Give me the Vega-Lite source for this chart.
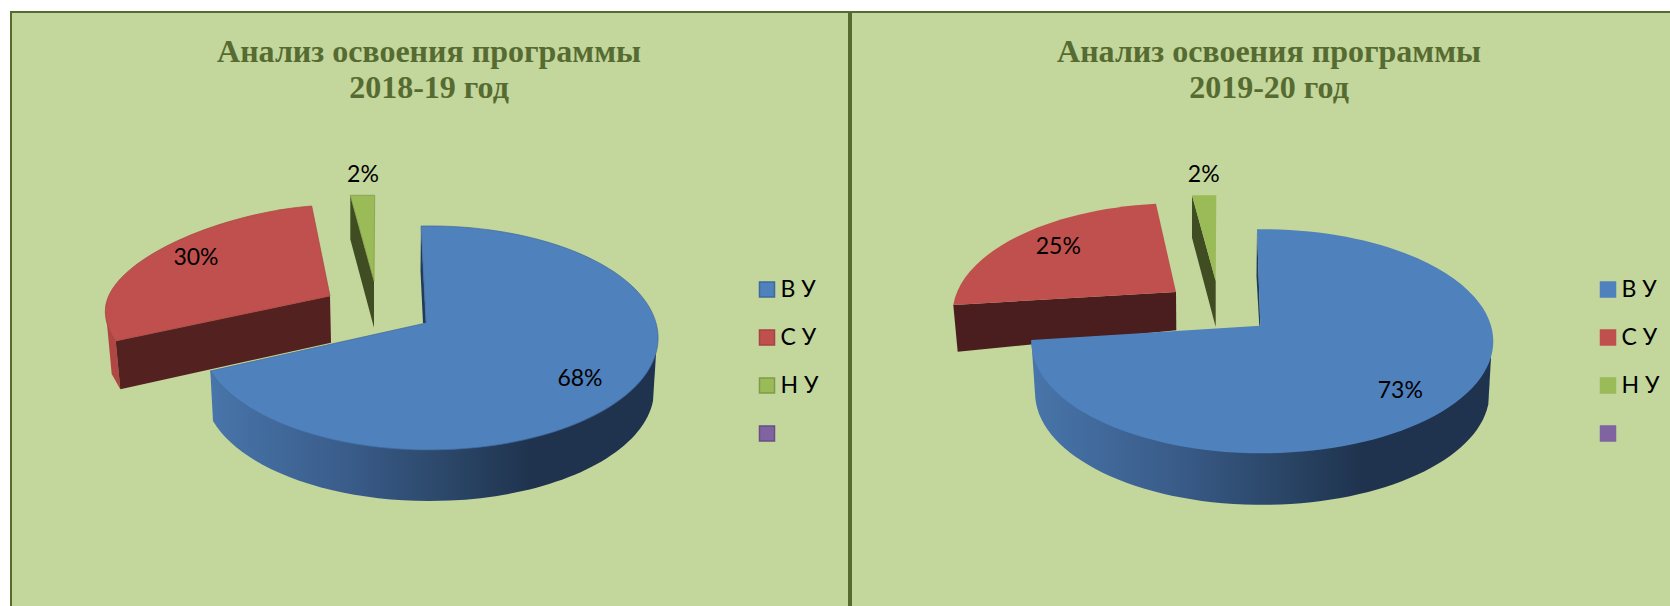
{
"$schema":"https://vega.github.io/schema/vega-lite/v6.json",
"background":"white",
"padding":{"left":10,"top":11,"right":0,"bottom":0},
"spacing":2,
"bounds":"flush",
"resolve":{"scale":{"color":"independent","stroke":"independent"},"legend":{"color":"independent","stroke":"independent"}},
"datasets":{
"y1819":[{"category":"В У","share":0.68},{"category":"С У","share":0.30},{"category":"Н У","share":0.02},{"category":" ","share":0}],
"y1920":[{"category":"В У","share":0.73},{"category":"С У","share":0.25},{"category":"Н У","share":0.02},{"category":" ","share":0}]
},
"config":{"font":"Lato"},
"hconcat":[
{"width":838,"height":598,"data":{"name":"y1819"},
"view":{"fill":"#c3d69b","stroke":"#556b2f","strokeWidth":2},
"layer":[
{"transform":[{"filter":{"field":"category","equal":"С У"}}],"mark":{"type":"point","filled":true,"opacity":1,"size":4,"fill":"#b14745","shape":"M-324.7 0 L-323 13 L-318.3 63 L-309.7 78.3 L-314.3 30 Z"}},
{"transform":[{"filter":{"field":"category","equal":"С У"}}],"mark":{"type":"point","filled":true,"opacity":1,"size":4,"fill":"#532120","shape":"M-314.3 30 L-100 -15 L-99 31.7 L-309.7 78.3 Z"}},
{"transform":[{"filter":{"field":"category","equal":"Н У"}}],"mark":{"type":"point","filled":true,"opacity":1,"size":4,"fill":"#404d22","shape":"M-79.7 -115.7 L-79.7 -71.7 L-56 16.7 L-56 -30 Z"}},
{"transform":[{"filter":{"field":"category","equal":"В У"}}],"mark":{"type":"point","filled":true,"opacity":1,"size":4,"fill":"#1f3a5c","shape":"M-9 -85 L-9.5 -40 L-7 12 L-4 12 Z"}},
{"transform":[{"filter":{"field":"category","equal":"В У"}}],"mark":{"type":"point","filled":true,"opacity":1,"size":4,"fill":{"gradient":"linear","x1":0,"x2":1,"y1":0,"y2":0,"stops":[{"offset":0,"color":"#4875aa"},{"offset":0.3,"color":"#3a5d8b"},{"offset":0.55,"color":"#2a4566"},{"offset":0.72,"color":"#1f334e"},{"offset":1,"color":"#1f334e"}]},"shape":"M-219.7 60 L226 43 L223 90 A225 111 0 0 1 -217 110 Z"}},
{"transform":[{"filter":{"field":"category","equal":"С У"}}],"mark":{"type":"point","filled":true,"opacity":1,"size":4,"fill":"#c0504d","stroke":"#a54442","strokeWidth":0.7,"shape":"M-100 -15 L-118.3 -105 C-210 -98 -324.7 -50 -324.7 0 C-324.7 12 -320 22 -314.3 30 Z"}},
{"transform":[{"filter":{"field":"category","equal":"Н У"}}],"mark":{"type":"point","filled":true,"opacity":1,"size":4,"fill":"#9bbb59","stroke":"#7f9a49","strokeWidth":0.7,"shape":"M-79.7 -115.7 L-55.3 -115.7 L-56 -30 Z"}},
{"transform":[{"filter":{"field":"category","equal":"В У"}}],"mark":{"type":"point","filled":true,"opacity":1,"size":4,"fill":"#4f81bd","stroke":"#41699b","strokeWidth":0.7,"shape":"M-9 -85 A229 112 0 1 1 -219.7 60 L-4 12 Z"}},
{"mark":{"type":"point","filled":true,"size":0,"shape":"square","opacity":1},
"encoding":{
"color":{"field":"category","type":"nominal","sort":null,"scale":{"domain":["В У","С У","Н У"," "],"range":["#4f81bd","#c0504d","#9bbb59","#8064a2"]},
"legend":{"title":null,"orient":"none","legendX":744.5,"legendY":266,"symbolType":"square","symbolSize":225,"symbolStrokeWidth":1.5,"labelFont":"Lato","labelFontSize":23,"labelColor":"#000000","labelOffset":2,"rowPadding":24,"symbolOpacity":1}},
"stroke":{"field":"category","type":"nominal","sort":null,"scale":{"domain":["В У","С У","Н У"," "],"range":["#41699b","#a54442","#7f9a49","#684f87"]}}
}},
{"transform":[{"filter":{"field":"category","equal":"Н У"}}],"mark":{"type":"text","dx":-67,"dy":-136,"font":"Lato","fontSize":23,"color":"#000000","align":"center","baseline":"middle"},"encoding":{"text":{"field":"share","type":"quantitative","format":".0%"}}},
{"transform":[{"filter":{"field":"category","equal":"С У"}}],"mark":{"type":"text","dx":-234,"dy":-53,"font":"Lato","fontSize":23,"color":"#000000","align":"center","baseline":"middle"},"encoding":{"text":{"field":"share","type":"quantitative","format":".0%"}}},
{"transform":[{"filter":{"field":"category","equal":"В У"}}],"mark":{"type":"text","dx":150,"dy":67.7,"font":"Lato","fontSize":23,"color":"#000000","align":"center","baseline":"middle"},"encoding":{"text":{"field":"share","type":"quantitative","format":".0%"}}},
{"transform":[{"filter":{"field":"category","equal":"В У"}}],"mark":{"type":"text","text":["Анализ освоения программы","2018-19 год"],"dx":-1,"dy":-249,"font":"Liberation Serif","fontWeight":"bold","fontSize":32,"lineHeight":36,"color":"#566b31","align":"center","baseline":"alphabetic"}}
]},
{"width":822,"height":598,"data":{"name":"y1920"},
"view":{"fill":"#c3d69b","stroke":"#556b2f","strokeWidth":2},
"layer":[
{"transform":[{"filter":{"field":"category","equal":"С У"}}],"mark":{"type":"point","filled":true,"opacity":1,"size":4,"fill":"#4a1e1e","shape":"M-308.7 -6 L-86 -19 L-85.7 19.3 L-304.3 40.7 Z"}},
{"transform":[{"filter":{"field":"category","equal":"Н У"}}],"mark":{"type":"point","filled":true,"opacity":1,"size":4,"fill":"#404d22","shape":"M-70 -115.7 L-70 -73.3 L-46.3 16 L-46.3 -30 Z"}},
{"transform":[{"filter":{"field":"category","equal":"В У"}}],"mark":{"type":"point","filled":true,"opacity":1,"size":4,"fill":"#1f3a5c","shape":"M-5 -81.7 L-5.5 -34 L-2.7 14.7 L-1.7 14.7 Z"}},
{"transform":[{"filter":{"field":"category","equal":"В У"}}],"mark":{"type":"point","filled":true,"opacity":1,"size":4,"fill":{"gradient":"linear","x1":0,"x2":1,"y1":0,"y2":0,"stops":[{"offset":0,"color":"#4875aa"},{"offset":0.3,"color":"#3a5d8b"},{"offset":0.55,"color":"#2a4566"},{"offset":0.72,"color":"#1f334e"},{"offset":1,"color":"#1f334e"}]},"shape":"M-230.7 29 L229 46.7 L226.3 93.3 A227.2 112 0 0 1 -226.7 86.7 Z"}},
{"transform":[{"filter":{"field":"category","equal":"С У"}}],"mark":{"type":"point","filled":true,"opacity":1,"size":4,"fill":"#c0504d","shape":"M-86 -19 L-106 -107.3 A228 111 0 0 0 -308.7 -6 Z"}},
{"transform":[{"filter":{"field":"category","equal":"Н У"}}],"mark":{"type":"point","filled":true,"opacity":1,"size":4,"fill":"#9bbb59","shape":"M-70 -115.7 L-45.7 -115.7 L-46.3 -30 Z"}},
{"transform":[{"filter":{"field":"category","equal":"В У"}}],"mark":{"type":"point","filled":true,"opacity":1,"size":4,"fill":"#4f81bd","shape":"M-5 -81.7 A231 112 0 1 1 -230.7 29 L-1.7 14.7 Z"}},
{"mark":{"type":"point","filled":true,"size":0,"shape":"square","opacity":1},
"encoding":{
"color":{"field":"category","type":"nominal","sort":null,"scale":{"domain":["В У","С У","Н У"," "],"range":["#4f81bd","#c0504d","#9bbb59","#8064a2"]},
"legend":{"title":null,"orient":"none","legendX":745.5,"legendY":266,"symbolType":"square","symbolSize":225,"labelFont":"Lato","labelFontSize":23,"labelColor":"#000000","labelOffset":2,"rowPadding":24,"symbolOpacity":1}},
"stroke":{"field":"category","type":"nominal","sort":null,"scale":{"domain":["В У","С У","Н У"," "],"range":["#4f81bd","#c0504d","#9bbb59","#8064a2"]}}
}},
{"transform":[{"filter":{"field":"category","equal":"Н У"}}],"mark":{"type":"text","dx":-58.3,"dy":-136,"font":"Lato","fontSize":23,"color":"#000000","align":"center","baseline":"middle"},"encoding":{"text":{"field":"share","type":"quantitative","format":".0%"}}},
{"transform":[{"filter":{"field":"category","equal":"С У"}}],"mark":{"type":"text","dx":-203.7,"dy":-64,"font":"Lato","fontSize":23,"color":"#000000","align":"center","baseline":"middle"},"encoding":{"text":{"field":"share","type":"quantitative","format":".0%"}}},
{"transform":[{"filter":{"field":"category","equal":"В У"}}],"mark":{"type":"text","dx":138.3,"dy":80,"font":"Lato","fontSize":23,"color":"#000000","align":"center","baseline":"middle"},"encoding":{"text":{"field":"share","type":"quantitative","format":".0%"}}},
{"transform":[{"filter":{"field":"category","equal":"В У"}}],"mark":{"type":"text","text":["Анализ освоения программы","2019-20 год"],"dx":7,"dy":-249,"font":"Liberation Serif","fontWeight":"bold","fontSize":32,"lineHeight":36,"color":"#566b31","align":"center","baseline":"alphabetic"}}
]}
]
}
